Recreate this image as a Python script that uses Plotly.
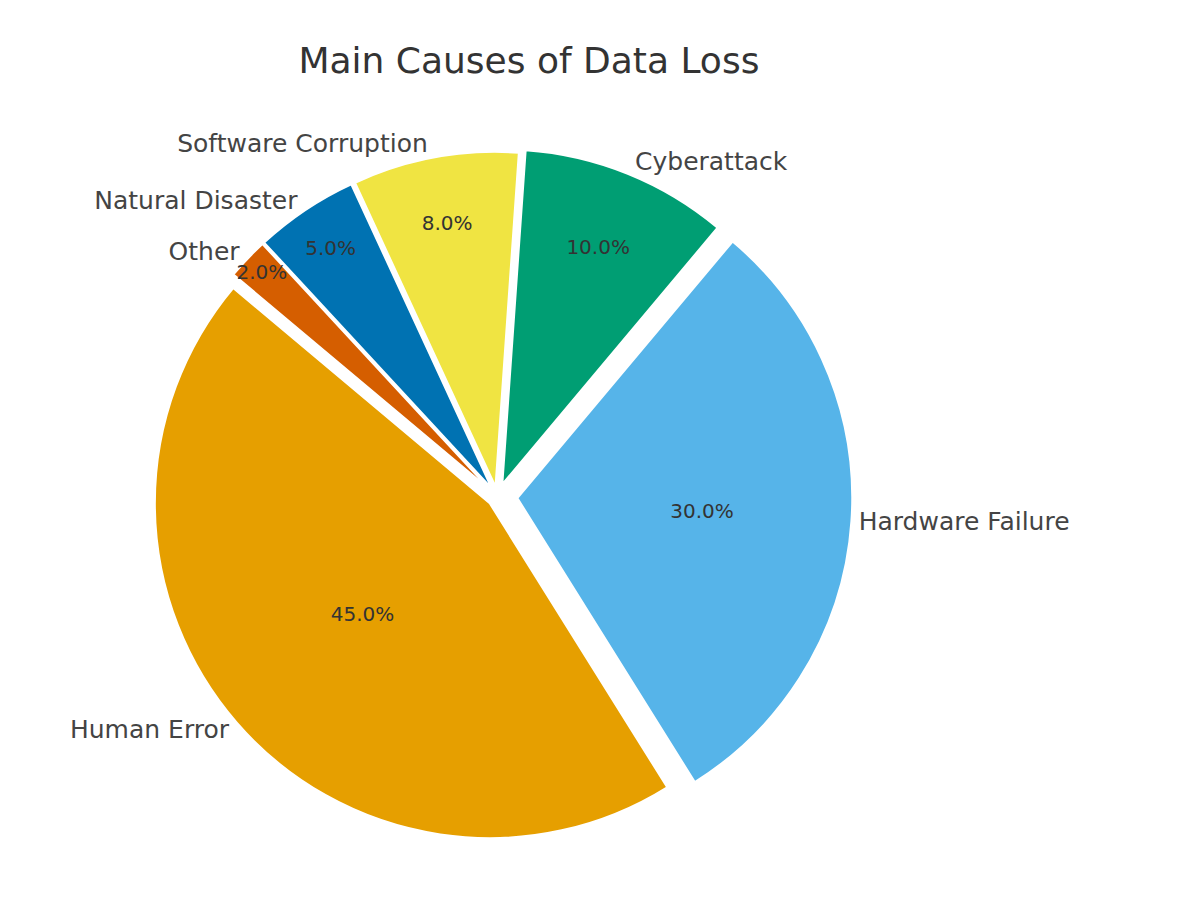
import plotly.graph_objects as go

labels = ["Human Error", "Hardware Failure", "Cyberattack", "Software Corruption", "Natural Disaster", "Other"]
values = [45, 30, 10, 8, 5, 2]
colors = ["#E69F00", "#56B4E9", "#009E73", "#F0E442", "#0072B2", "#D55E00"]
pulls = [0.03, 0.06, 0.04, 0.03, 0.03, 0.03]

dom = dict(x=[0.08, 0.7], y=[0.085, 0.855])
common = dict(labels=labels, values=values, sort=False, direction="counterclockwise",
              rotation=148, pull=pulls, domain=dom, showlegend=False, hoverinfo="skip")

fig = go.Figure()
fig.add_trace(go.Pie(**common, marker=dict(colors=colors, line=dict(color="white", width=2)),
                     texttemplate="%{percent:.1%}", textposition="inside",
                     insidetextorientation="horizontal",
                     textfont=dict(size=20, color="#333333", family="DejaVu Sans")))
fig.add_trace(go.Pie(**common, marker=dict(colors=["rgba(0,0,0,0)"] * 6, line=dict(width=0)),
                     texttemplate="%{label}", textposition="outside",
                     textfont=dict(size=25, color="#444444", family="DejaVu Sans")))
fig.update_layout(
    width=1203, height=922, paper_bgcolor="white", plot_bgcolor="white",
    margin=dict(l=0, r=0, t=0, b=0),
    uniformtext=dict(mode="show", minsize=20),
    title=dict(text="Main Causes of Data Loss", x=0.433, xanchor="center", y=0.957,
               font=dict(size=36, color="#333333", family="DejaVu Sans")),
)
fig.write_html("out.html")
